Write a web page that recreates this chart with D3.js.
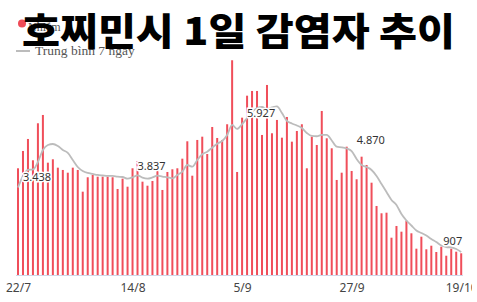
<!DOCTYPE html>
<html>
<head>
<meta charset="utf-8">
<script src="https://cdn.jsdelivr.net/npm/d3@7"></script>
<style>
  body { margin: 0; background: #fff; }
  svg { display: block; }
</style>
</head>
<body>
<svg id="chart"></svg>
<script>
// daily cases, 22/7 -> 19/10
var startDate = new Date(2021, 6, 22);
var cases = [4193, 4873, 5345, 4508, 5962, 6288, 4413, 4547, 4217, 4127,
             4020, 4217, 4127, 3274, 3840, 3930, 3863, 3863, 3863, 3840,
             3380, 3785, 3470, 4193, 4480, 3667, 3509, 3694, 4099, 3341,
             4048, 4154, 4193, 4571, 5254, 3902, 5306, 5435, 4755, 5816,
             5384, 5306, 5923, 8438, 4048, 6182, 7046, 7231, 7231, 5502,
             7467, 5569, 6092, 5396, 6209, 5239, 5659, 5923, 4193, 5435,
             5109, 6445, 5372, 4979, 3734, 4020, 5042, 4087, 3761, 4649,
             4323, 3627, 2712, 2425, 2448, 1466, 1926, 1702, 2134, 1639,
             1034, 1505, 1010, 1151, 904, 1112, 758, 1034, 916, 853];
// 7 day average
var avg7 = [3438, 3891, 4127, 4146, 4441, 4913, 5109, 5148, 5070, 4913,
            4795, 4520, 4244, 4087, 4009, 3969, 3930, 3910, 3891, 3891,
            3863, 3851, 3785, 3837, 3918, 3824, 3785, 3832, 3902, 3863,
            3840, 3800, 3930, 4060, 4323, 4256, 4520, 4743, 4846, 5003,
            5160, 5266, 5502, 5895, 5738, 5927, 6170, 6406, 6563, 6602,
            6524, 6583, 6622, 6367, 6052, 5954, 5875, 5777, 5581, 5463,
            5451, 5502, 5502, 5286, 5042, 5019, 4971, 4870, 4559, 4323,
            4244, 4127, 3891, 3576, 3262, 2948, 2751, 2397, 2142, 1945,
            1749, 1651, 1552, 1415, 1297, 1159, 1100, 1081, 1022, 907];
var tickLabels = ["22/7", "14/8", "5/9", "27/9", "19/10"];
var labelDays = [0, 23, 45, 67, 89];
var title = "호찌민시 1일 감염자 추이";
var legendNames = ["Nhiễm", "Trung bình 7 ngày"];

var width = 472;
var height = 302;

var dayOf = function(i)
{
    var d = new Date(startDate);
    d.setDate(d.getDate() + i);
    return d;
}
var days = cases.map(function(c, i){ return dayOf(i); });

var svg = d3.select("#chart")
    .attr("width", width)
    .attr("height", height);

var xScale = d3.scaleTime()
    .domain([days[0], days[days.length - 1]])
    .range([18, 461.2]);
var yScale = d3.scaleLinear()
    .domain([0, 8000])
    .range([275, 71.4]);

// bars
svg.append("g")
    .selectAll("rect")
    .data(cases)
    .enter()
    .append("rect")
    .attr("x", function(d, i){ return xScale(days[i]) - 1; })
    .attr("y", function(d){ return yScale(d); })
    .attr("width", 2)
    .attr("height", function(d){ return yScale(0) - yScale(d); })
    .attr("fill", "#f04e5a");

// baseline
svg.append("line")
    .attr("x1", 16)
    .attr("x2", 463)
    .attr("y1", yScale(0) + 0.5)
    .attr("y2", yScale(0) + 0.5)
    .attr("stroke", "#cdd7ea")
    .attr("stroke-width", 1.2);

// x axis
var xAxis = d3.axisBottom(xScale)
    .tickValues(labelDays.map(function(i){ return days[i]; }))
    .tickFormat(function(d, i){ return tickLabels[i]; })
    .tickSize(0)
    .tickPadding(8);
var axisG = svg.append("g")
    .attr("transform", "translate(0," + yScale(0) + ")")
    .call(xAxis);
axisG.select(".domain").remove();
axisG.selectAll("text")
    .attr("font-family", "'Noto Sans', sans-serif")
    .attr("font-size", 12)
    .attr("fill", "#444");

// 7 day line
var line = d3.line()
    .x(function(d, i){ return xScale(days[i]); })
    .y(function(d){ return yScale(d); })
    .curve(d3.curveMonotoneX);
svg.append("path")
    .datum(avg7)
    .attr("d", line)
    .attr("fill", "none")
    .attr("stroke", "#bcbcbc")
    .attr("stroke-width", 1.8);

// value labels
svg.append("g")
    .selectAll("text")
    .data(labelDays)
    .enter()
    .append("text")
    .attr("x", function(i){ return i == 89 ? xScale(days[i]) + 1 : xScale(days[i]) + 5; })
    .attr("y", function(i){ return yScale(avg7[i]) - 7; })
    .attr("text-anchor", function(i){ return i == 89 ? "end" : "start"; })
    .attr("font-family", "'Noto Sans', sans-serif")
    .attr("font-size", 11)
    .attr("fill", "#333")
    .attr("stroke", "#fff")
    .attr("stroke-width", 3)
    .attr("paint-order", "stroke")
    .text(function(i){ return d3.format(",")(avg7[i]).replace(/,/g, "."); });

// legend
svg.append("circle")
    .attr("cx", 22)
    .attr("cy", 23.5)
    .attr("r", 4)
    .attr("fill", "#ef4b57");
svg.append("text")
    .attr("x", 28)
    .attr("y", 31)
    .attr("font-family", "'Liberation Serif', serif")
    .attr("font-size", 12)
    .attr("fill", "#555")
    .text(legendNames[0]);
svg.append("line")
    .attr("x1", 16)
    .attr("x2", 30)
    .attr("y1", 51)
    .attr("y2", 51)
    .attr("stroke", "#bcbcbc")
    .attr("stroke-width", 2);
svg.append("text")
    .attr("x", 35)
    .attr("y", 55)
    .attr("font-family", "'Liberation Serif', serif")
    .attr("font-size", 13.5)
    .attr("fill", "#555")
    .text(legendNames[1]);

// title on top
svg.append("text")
    .attr("x", 22)
    .attr("y", 44.5)
    .attr("font-family", "'Noto Sans CJK KR', sans-serif")
    .attr("font-weight", 900)
    .attr("font-size", 38)
    .attr("textLength", 433)
    .attr("lengthAdjust", "spacingAndGlyphs")
    .attr("fill", "#000")
    .text(title);
</script>
</body>
</html>
